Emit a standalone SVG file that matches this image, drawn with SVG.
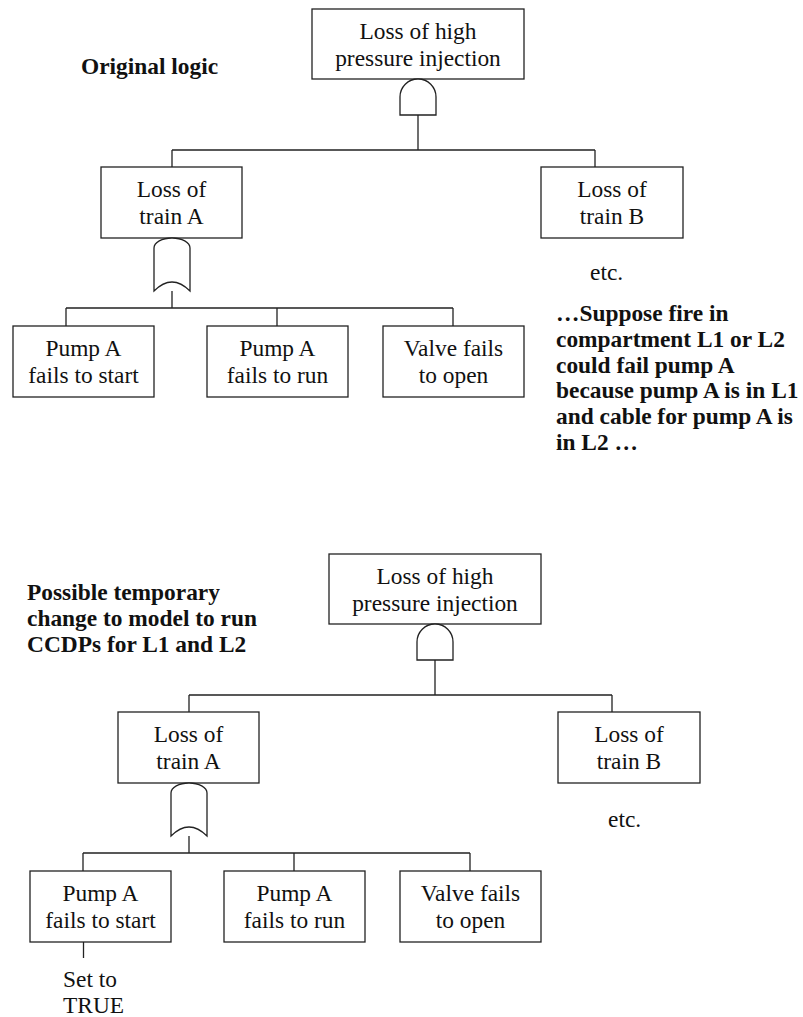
<svg xmlns="http://www.w3.org/2000/svg" width="803" height="1017" viewBox="0 0 803 1017">
<style>
.box{fill:#fff;stroke:#222;stroke-width:1.3}
.gate{fill:#fff;stroke:#222;stroke-width:1.3}
.ln{fill:none;stroke:#222;stroke-width:1.3}
.t{font-family:"Liberation Serif","Times New Roman",serif;font-size:23.4px;fill:#111;text-anchor:middle}
.n{font-family:"Liberation Serif","Times New Roman",serif;font-size:23.4px;fill:#111}
.b{font-family:"Liberation Serif","Times New Roman",serif;font-size:23.4px;font-weight:bold;fill:#111}
</style>
<defs>
<path id="andg" d="M-18,36 V18 A18,18 0 0 1 18,18 V36 Z"/>
<path id="org" d="M-18,53 V10 A18,10 0 0 1 18,10 V53 Q0,35 -18,53 Z"/>
</defs>
<rect width="803" height="1017" fill="#fff"/>

<text class="b" x="81" y="74">Original logic</text>
<text class="b">
<tspan x="556" y="321">…Suppose fire in</tspan>
<tspan x="556" y="346.8">compartment L1 or L2</tspan>
<tspan x="556" y="372.6">could fail pump A</tspan>
<tspan x="556" y="398.4">because pump A is in L1</tspan>
<tspan x="556" y="424.2">and cable for pump A is</tspan>
<tspan x="556" y="450">in L2 …</tspan>
</text>
<text class="n" x="590" y="280">etc.</text>

<text class="b">
<tspan x="27" y="600">Possible temporary</tspan>
<tspan x="27" y="626">change to model to run</tspan>
<tspan x="27" y="652">CCDPs for L1 and L2</tspan>
</text>
<text class="n" x="608" y="827">etc.</text>

<g id="connectors">
<path class="ln" d="M418,115 V150 M172,150 H595 M172,150 V167 M595,150 V167"/>
<path class="ln" d="M172,291 V308 M66,308 H453 M66,308 V326 M277,308 V326 M453,308 V326"/>
<path class="ln" d="M435,660 V695 M189,695 H612 M189,695 V712 M612,695 V712"/>
<path class="ln" d="M189,836 V853 M83,853 H470 M83,853 V871 M294,853 V871 M470,853 V871"/>
<path class="ln" d="M83.5,942 V958"/>
</g>

<g id="top-hpi">
<rect class="box" x="312" y="9" width="212" height="70"/>
<text class="t"><tspan x="418" y="38.5">Loss of high</tspan><tspan x="418" y="66">pressure injection</tspan></text>
</g>
<g id="top-and"><use href="#andg" class="gate" x="418" y="79"/></g>
<g id="top-trainA">
<rect class="box" x="101" y="167" width="141" height="71"/>
<text class="t"><tspan x="171.5" y="196.5">Loss of</tspan><tspan x="171.5" y="223.5">train A</tspan></text>
</g>
<g id="top-or"><use href="#org" class="gate" x="172" y="238"/></g>
<g id="top-trainB">
<rect class="box" x="541" y="167" width="142" height="71"/>
<text class="t"><tspan x="612" y="196.5">Loss of</tspan><tspan x="612" y="223.5">train B</tspan></text>
</g>
<g id="top-pumpstart">
<rect class="box" x="13" y="326" width="141" height="71"/>
<text class="t"><tspan x="83.5" y="355.5">Pump A</tspan><tspan x="83.5" y="382.5">fails to start</tspan></text>
</g>
<g id="top-pumprun">
<rect class="box" x="207" y="326" width="141" height="71"/>
<text class="t"><tspan x="277.5" y="355.5">Pump A</tspan><tspan x="277.5" y="382.5">fails to run</tspan></text>
</g>
<g id="top-valve">
<rect class="box" x="383" y="326" width="141" height="71"/>
<text class="t"><tspan x="453.5" y="355.5">Valve fails</tspan><tspan x="453.5" y="382.5">to open</tspan></text>
</g>

<g id="bot-hpi">
<rect class="box" x="329" y="554" width="212" height="70"/>
<text class="t"><tspan x="435" y="583.5">Loss of high</tspan><tspan x="435" y="611">pressure injection</tspan></text>
</g>
<g id="bot-and"><use href="#andg" class="gate" x="435" y="624"/></g>
<g id="bot-trainA">
<rect class="box" x="118" y="712" width="141" height="71"/>
<text class="t"><tspan x="188.5" y="741.5">Loss of</tspan><tspan x="188.5" y="768.5">train A</tspan></text>
</g>
<g id="bot-or"><use href="#org" class="gate" x="189" y="783"/></g>
<g id="bot-trainB">
<rect class="box" x="558" y="712" width="142" height="71"/>
<text class="t"><tspan x="629" y="741.5">Loss of</tspan><tspan x="629" y="768.5">train B</tspan></text>
</g>
<g id="bot-pumpstart">
<rect class="box" x="30" y="871" width="141" height="71"/>
<text class="t"><tspan x="100.5" y="900.5">Pump A</tspan><tspan x="100.5" y="927.5">fails to start</tspan></text>
</g>
<g id="bot-pumprun">
<rect class="box" x="224" y="871" width="141" height="71"/>
<text class="t"><tspan x="294.5" y="900.5">Pump A</tspan><tspan x="294.5" y="927.5">fails to run</tspan></text>
</g>
<g id="bot-valve">
<rect class="box" x="400" y="871" width="141" height="71"/>
<text class="t"><tspan x="470.5" y="900.5">Valve fails</tspan><tspan x="470.5" y="927.5">to open</tspan></text>
</g>
<g id="set-true">
<text class="n"><tspan x="63" y="987">Set to</tspan><tspan x="63" y="1013">TRUE</tspan></text>
</g>
</svg>
